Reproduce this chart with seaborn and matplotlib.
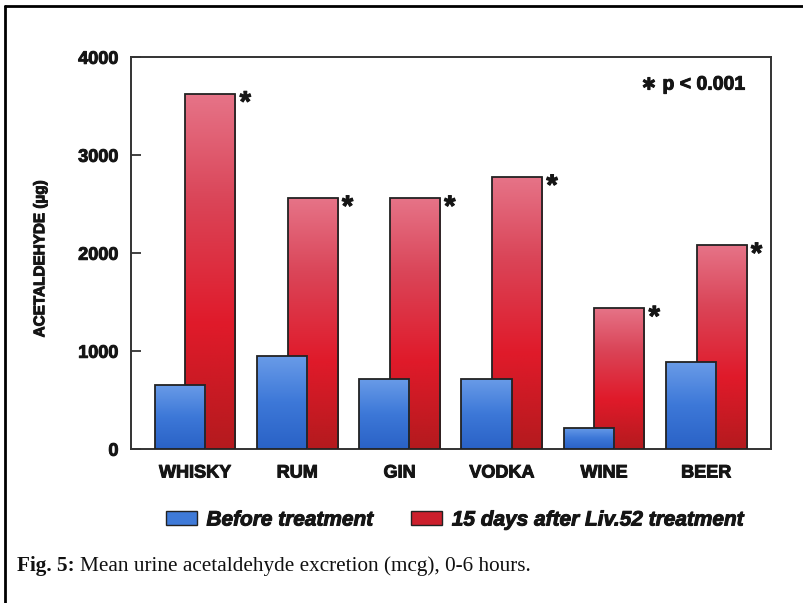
import numpy as np
import pandas as pd
import matplotlib
matplotlib.use("Agg")
import matplotlib.pyplot as plt
import seaborn as sns
from matplotlib.colors import LinearSegmentedColormap
from matplotlib.lines import Line2D
from matplotlib.patches import Patch
import matplotlib.patheffects as pe

# values
drinks = ["WHISKY", "RUM", "GIN", "VODKA", "WINE", "BEER"]
before = [660, 950, 715, 720, 220, 890]
after = [3630, 2565, 2565, 2780, 1440, 2085]
yticks = [0, 1000, 2000, 3000, 4000]

sns.set_theme(style="white")
plt.rcParams["font.family"] = ["Liberation Sans", "DejaVu Sans"]

ink = "#151515"
heavy = [pe.withStroke(linewidth=0.7, foreground=ink)]  #scan print looks heavier than plain bold

fig = plt.figure(figsize=(8.04, 6.03), dpi=100)
fig.patch.set_facecolor("white")
ax = fig.add_axes([0.163, 0.255, 0.7956, 0.650])

pos = np.arange(len(drinks))
df = pd.DataFrame({"x_before": pos - 0.15, "x_after": pos + 0.15,
                   "before": before, "after": after})

#red bars behind, blue bars in front
sns.barplot(data=df, x="x_after", y="after", native_scale=True, width=0.49,
            color="#d81c2c", saturation=1, edgecolor="#222222",
            linewidth=1.3, zorder=3, ax=ax)
n_red = len(ax.patches)
sns.barplot(data=df, x="x_before", y="before", native_scale=True, width=0.49,
            color="#3a75d4", saturation=1, edgecolor="#222222",
            linewidth=1.3, zorder=5, ax=ax)

red_cmap = LinearSegmentedColormap.from_list(
    "red", [(0, "#e67488"), (0.3, "#da4558"), (0.65, "#e01a2a"), (1, "#b41a1e")])
blue_cmap = LinearSegmentedColormap.from_list(
    "blue", [(0, "#6a9ce8"), (0.5, "#3d78d8"), (1, "#2a62c6")])

grad = np.linspace(1, 0, 256).reshape(-1, 1)
for i, p in enumerate(ax.patches):
    cmap = red_cmap if i < n_red else blue_cmap
    x0, w, h = p.get_x(), p.get_width(), p.get_height()
    im = ax.imshow(grad, cmap=cmap, extent=[x0, x0 + w, 0, h], origin="lower",
                   aspect="auto", zorder=p.get_zorder() - 0.1, vmin=0, vmax=1)
    im.set_clip_path(p)
    p.set_facecolor("none")

#significance stars next to each red bar
for i, v in enumerate(after):
    ax.annotate("*", xy=(pos[i] + 0.15 + 0.245, v), xytext=(3, -7),
                textcoords="offset points", ha="left", va="center",
                fontsize=21, fontweight="bold", color=ink, path_effects=heavy)

ax.text(0.96, 0.929, "\u2217 p < 0.001", transform=ax.transAxes, ha="right",
        va="center", fontsize=14, fontweight="bold", color=ink,
        path_effects=heavy)

ax.set_xlim(-0.626, 5.63)
ax.set_ylim(0, 4000)
ax.set_xticks(pos)
ax.set_xticklabels(drinks)
ax.set_yticks(yticks)
ax.set_xlabel("")
ax.tick_params(axis="x", length=0, pad=11, labelsize=13)
ax.tick_params(axis="y", direction="in", length=7, width=1.3, color="#333333",
               left=True, pad=9, labelsize=13)
for lab in ax.get_xticklabels() + ax.get_yticklabels():
    lab.set_fontweight("bold")
    lab.set_color(ink)
    lab.set_path_effects(heavy)
for s in ax.spines.values():
    s.set_visible(True)
    s.set_color("#333333")
    s.set_linewidth(1.4)

ax.set_ylabel("ACETALDEHYDE (\u00b5g)", fontsize=11, fontweight="bold",
              color=ink, path_effects=heavy)
ax.yaxis.set_label_coords(-0.131, 0.485)

handles = [Patch(facecolor="#3f7ad8", edgecolor="#222222", label="Before treatment"),
           Patch(facecolor="#cc1f2c", edgecolor="#222222",
                 label="15 days after Liv.52 treatment")]
leg = fig.legend(handles=handles, loc="center", bbox_to_anchor=(0.566, 0.1376),
                 ncol=2, frameon=False, handlelength=1.5, handleheight=0.65,
                 handletextpad=0.45, columnspacing=1.8,
                 prop={"size": 15, "weight": "bold", "style": "italic"})
for t in leg.get_texts():
    t.set_color(ink)
    t.set_path_effects(heavy)

#caption
cap_y = 1 - 571 / 603
t1 = fig.text(17 / 804, cap_y, "Fig. 5:", family="Liberation Serif",
              fontweight="bold", fontsize=15.3, va="baseline", color="#111111")
fig.canvas.draw()
bb = t1.get_window_extent()
fig.text((bb.x1 + 5) / 804, cap_y,
         "Mean urine acetaldehyde excretion (mcg), 0-6 hours.",
         family="Liberation Serif", fontsize=15.3, va="baseline", color="#111111")

#scan border (left and top)
fig.add_artist(Line2D([5 / 804, 5 / 804], [0, 1 - 6 / 603],
                      transform=fig.transFigure, color="black", lw=2))
fig.add_artist(Line2D([5 / 804, 1], [1 - 6 / 603, 1 - 6 / 603],
                      transform=fig.transFigure, color="black", lw=2))

fig.savefig("out.png", dpi=100)
